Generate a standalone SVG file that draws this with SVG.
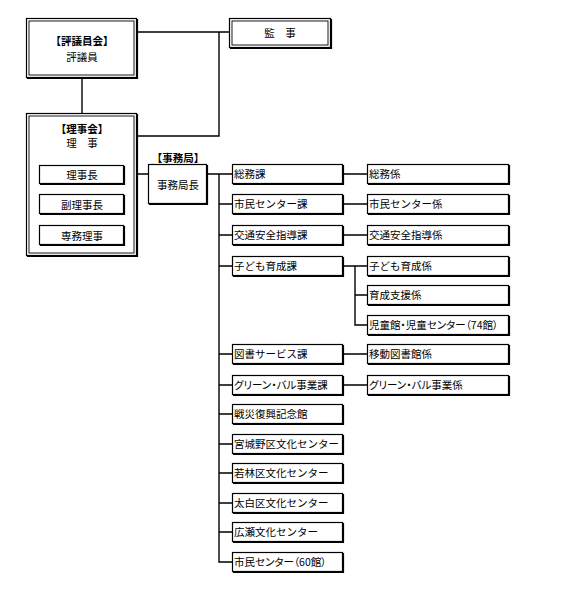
<svg xmlns="http://www.w3.org/2000/svg" width="561" height="602" viewBox="0 0 561 602">
<style>
text{font-family:"Noto Sans CJK JP","Noto Sans",sans-serif;font-size:10.5px;fill:#000}
.c{text-anchor:middle}
.b{font-weight:bold}
.p{font-feature-settings:"palt"}
.box{fill:#fff;stroke:#000;stroke-width:1.2}
.sh{fill:none;stroke:#000;stroke-width:1.2}
.in{fill:none;stroke:#000;stroke-width:0.9}
.ln{fill:none;stroke:#000;stroke-width:1.4}
</style>
<rect width="561" height="602" fill="#fff"/>
<g id="connectors">
<path class="ln" d="M137,32H230M219,32V136H137M82,78V113"/>
<path class="ln" d="M124,174H148M130,174V235H124M130,204H124"/>
<path class="ln" d="M207,174H232M219,174V562H232M219,204H232M219,235H232M219,266H232M219,354H232M219,385H232M219,414H232M219,444H232M219,473H232M219,503H232M219,532H232"/>
<path class="ln" d="M343,174H367M343,204H367M343,235H367M343,266H367M355,266V325H367M355,295H367M343,354H367M343,385H367"/>
</g>
<g id="hyogiinkai">
<rect class="box" x="26.5" y="18.5" width="110" height="59"/>
<rect class="in" x="29" y="21" width="105" height="54"/>
<path class="sh" d="M137.5,19V78.5H27"/>
<text class="c b" x="82" y="45">【評議員会】</text>
<text class="c" x="82" y="61">評議員</text>
</g>
<g id="kanji">
<rect class="box" x="229.5" y="18.5" width="101" height="29"/>
<rect class="in" x="232" y="21" width="96" height="24"/>
<path class="sh" d="M331.5,19V48.5H230"/>
<text class="c" x="280" y="37">監　事</text>
</g>
<g id="rijikai">
<rect class="box" x="26.5" y="113.5" width="110" height="142"/>
<rect class="in" x="29" y="116" width="105" height="137"/>
<path class="sh" d="M137.5,114V256.5H27"/>
<text class="c b" x="82" y="133">【理事会】</text>
<text class="c" x="82" y="147">理　事</text>
</g>
<g id="rijicho">
<rect class="box" x="39.5" y="165.5" width="84" height="18"/>
<path class="sh" d="M124.5,166V184.5H40"/>
<text class="c" x="82" y="179">理事長</text>
</g>
<g id="fukurijicho">
<rect class="box" x="39.5" y="194.5" width="84" height="19"/>
<path class="sh" d="M124.5,195V214.5H40"/>
<text class="c" x="82" y="209">副理事長</text>
</g>
<g id="senmuriji">
<rect class="box" x="39.5" y="225.5" width="84" height="19"/>
<path class="sh" d="M124.5,226V245.5H40"/>
<text class="c" x="82" y="240">専務理事</text>
</g>
<g id="jimukyokucho">
<text class="c b" x="178" y="162">【事務局】</text>
<rect class="box" x="148.5" y="164.5" width="58" height="39"/>
<path class="sh" d="M207.5,165V204.5H149"/>
<text class="c" x="178" y="189">事務局長</text>
</g>
<g id="ka">
<g id="somuka"><rect class="box" x="232.5" y="164.5" width="110" height="19"/><path class="sh" d="M343.5,165V184.5H233"/><text x="234" y="178">総務課</text></g>
<g id="shiminka"><rect class="box" x="232.5" y="194.5" width="110" height="19"/><path class="sh" d="M343.5,195V214.5H233"/><text x="234" y="208">市民センター課</text></g>
<g id="kotsuka"><rect class="box" x="232.5" y="225.5" width="110" height="19"/><path class="sh" d="M343.5,226V245.5H233"/><text x="234" y="239">交通安全指導課</text></g>
<g id="kodomoka"><rect class="box" x="232.5" y="256.5" width="110" height="19"/><path class="sh" d="M343.5,257V276.5H233"/><text x="234" y="270">子ども育成課</text></g>
<g id="toshoka"><rect class="box" x="232.5" y="344.5" width="110" height="19"/><path class="sh" d="M343.5,345V364.5H233"/><text x="234" y="358">図書サービス課</text></g>
<g id="greenka"><rect class="box" x="232.5" y="375.5" width="110" height="19"/><path class="sh" d="M343.5,376V395.5H233"/><text class="p" x="234" y="389">グリーン・バル事業課</text></g>
<g id="sensai"><rect class="box" x="232.5" y="404.5" width="110" height="19"/><path class="sh" d="M343.5,405V424.5H233"/><text x="234" y="418">戦災復興記念館</text></g>
<g id="miyagino"><rect class="box" x="232.5" y="434.5" width="110" height="19"/><path class="sh" d="M343.5,435V454.5H233"/><text x="234" y="448">宮城野区文化センター</text></g>
<g id="wakabayashi"><rect class="box" x="232.5" y="463.5" width="110" height="19"/><path class="sh" d="M343.5,464V483.5H233"/><text x="234" y="477">若林区文化センター</text></g>
<g id="taihaku"><rect class="box" x="232.5" y="493.5" width="110" height="19"/><path class="sh" d="M343.5,494V513.5H233"/><text x="234" y="507">太白区文化センター</text></g>
<g id="hirose"><rect class="box" x="232.5" y="522.5" width="110" height="19"/><path class="sh" d="M343.5,523V542.5H233"/><text x="234" y="536">広瀬文化センター</text></g>
<g id="shiminc60"><rect class="box" x="232.5" y="552.5" width="110" height="19"/><path class="sh" d="M343.5,553V572.5H233"/><text class="p" x="234" y="566">市民センター（60館）</text></g>
</g>
<g id="kakari">
<g id="somugakari"><rect class="box" x="367.5" y="164.5" width="141" height="19"/><path class="sh" d="M509.5,165V184.5H368"/><text x="369" y="178">総務係</text></g>
<g id="shimingakari"><rect class="box" x="367.5" y="194.5" width="141" height="19"/><path class="sh" d="M509.5,195V214.5H368"/><text x="369" y="208">市民センター係</text></g>
<g id="kotsugakari"><rect class="box" x="367.5" y="225.5" width="141" height="19"/><path class="sh" d="M509.5,226V245.5H368"/><text x="369" y="239">交通安全指導係</text></g>
<g id="kodomogakari"><rect class="box" x="367.5" y="256.5" width="141" height="19"/><path class="sh" d="M509.5,257V276.5H368"/><text x="369" y="270">子ども育成係</text></g>
<g id="ikuseigakari"><rect class="box" x="367.5" y="285.5" width="141" height="19"/><path class="sh" d="M509.5,286V305.5H368"/><text x="369" y="299">育成支援係</text></g>
<g id="jidokan"><rect class="box" x="367.5" y="315.5" width="141" height="19"/><path class="sh" d="M509.5,316V335.5H368"/><text class="p" x="369" y="329">児童館・児童センター（74館）</text></g>
<g id="idotosho"><rect class="box" x="367.5" y="344.5" width="141" height="19"/><path class="sh" d="M509.5,345V364.5H368"/><text x="369" y="358">移動図書館係</text></g>
<g id="greengakari"><rect class="box" x="367.5" y="375.5" width="141" height="19"/><path class="sh" d="M509.5,376V395.5H368"/><text class="p" x="369" y="389">グリーン・バル事業係</text></g>
</g>
</svg>
